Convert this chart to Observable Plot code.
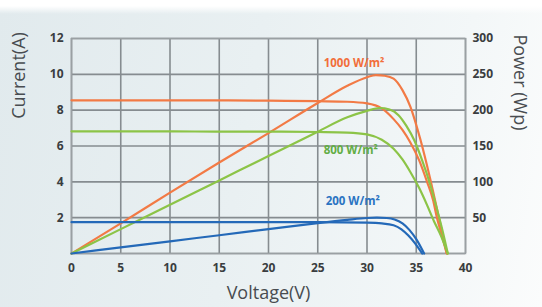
<!DOCTYPE html>
<html>
<head>
<meta charset="utf-8">
<script src="https://cdn.jsdelivr.net/npm/d3@7"></script>
<script src="https://cdn.jsdelivr.net/npm/@observablehq/plot@0.6"></script>
<style>
  html, body { margin: 0; padding: 0; }
  body {
    width: 542px; height: 307px; overflow: hidden;
    background: linear-gradient(to bottom, #ffffff 0px, #ffffff 6px, rgba(255,255,255,0) 14px),
                linear-gradient(100deg, #e1eaed 0%, #e9f0f2 45%, #f3f7f8 80%, #fbfcfc 100%);
    font-family: "Open Sans", "DejaVu Sans", sans-serif;
  }
</style>
</head>
<body>
<div id="chart"></div>
<script>
// Tick values
const voltageTicks = [0, 5, 10, 15, 20, 25, 30, 35, 40];
const currentTicks = [0, 2, 4, 6, 8, 10, 12];
const powerTickLabels = ["", "50", "100", "150", "200", "250", "300"];

// 1000 W/m² — I-V curve
const v1000I = [0, 5, 10, 15, 20, 25, 28, 30, 31.5, 32.7, 33.6, 34.4, 35.3, 36.1, 36.7, 37.1, 37.6, 38.1];
const i1000  = [8.55, 8.55, 8.55, 8.55, 8.53, 8.5, 8.47, 8.38, 8.1, 7.5, 6.9, 6.2, 5.2, 4.0, 3.0, 2.0, 1.0, 0];
// 1000 W/m² — P-V curve (Wp)
const v1000P = [0, 5, 10, 15, 20, 25, 28, 30, 30.9, 31.8, 32.7, 33.6, 34.4, 35.4, 36.4, 37.3, 38.1];
const p1000  = [0, 42, 85, 127, 168, 210, 234, 246, 249, 248, 244, 228, 205, 160, 105, 50, 0];

// 800 W/m² — I-V curve
const v800I = [0, 5, 10, 15, 20, 25, 28, 30, 31.5, 32.7, 33.6, 34.4, 35.3, 36.1, 36.8, 37.5, 38.2];
const i800  = [6.82, 6.82, 6.82, 6.8, 6.8, 6.78, 6.75, 6.65, 6.35, 5.85, 5.25, 4.55, 3.65, 2.7, 1.8, 1.0, 0];
// 800 W/m² — P-V curve
const v800P = [0, 5, 10, 15, 20, 25, 28, 30, 31.3, 32.3, 33.2, 34.0, 34.8, 35.6, 36.4, 37.1, 37.7, 38.2];
const p800  = [0, 34, 68, 102, 136, 170, 190, 199, 203, 201, 193, 178, 158, 130, 97, 62, 30, 0];

// 200 W/m² — I-V curve
const v200I = [0, 5, 10, 15, 20, 25, 30, 31.5, 32.7, 33.5, 34.2, 34.9, 35.6];
const i200  = [1.75, 1.75, 1.75, 1.75, 1.75, 1.75, 1.72, 1.68, 1.58, 1.35, 1.0, 0.55, 0];
// 200 W/m² — P-V curve
const v200P = [0, 5, 10, 15, 20, 25, 28, 30, 31, 32, 32.8, 33.6, 34.3, 35.0, 35.8];
const p200  = [0, 8.5, 17, 25.5, 34, 42.5, 47, 49.5, 50, 49.5, 47.5, 42, 33, 20, 0];

const seriesLabels = ["1000 W/m²", "800 W/m²", "200 W/m²"];
const labelV = [25.6, 25.6, 25.8];
const labelI = [10.6, 5.75, 2.9];

const colors = {"1000 W/m²": "#f27a45", "800 W/m²": "#8cc447", "200 W/m²": "#2469b8"};
const labelColors = {"1000 W/m²": "#f26e3a", "800 W/m²": "#62ad45", "200 W/m²": "#2a73c2"};

const WATT_PER_AMP = 25; // right axis 0–300 Wp maps to left axis 0–12 A

function ivRows(name, vs, is) { return vs.map((v, k) => ({series: name, kind: "I", v, y: is[k]})); }
function pvRows(name, vs, ps) { return vs.map((v, k) => ({series: name, kind: "P", v, p: ps[k], y: ps[k] / WATT_PER_AMP})); }

const rows = [
  ...ivRows(seriesLabels[0], v1000I, i1000), ...pvRows(seriesLabels[0], v1000P, p1000),
  ...ivRows(seriesLabels[1], v800I, i800),   ...pvRows(seriesLabels[1], v800P, p800),
  ...ivRows(seriesLabels[2], v200I, i200),   ...pvRows(seriesLabels[2], v200P, p200)
];
const labelRows = seriesLabels.map((s, k) => ({series: s, v: labelV[k], y: labelI[k]}));

const tickFont = {fontSize: 12, fontWeight: "bold", fill: "#3a3d40"};
const titleFont = {fontSize: 18, fill: "#484c50", fontWeight: 500, textAnchor: "middle", lineAnchor: "middle"};

const chart = Plot.plot({
  width: 542,
  height: 307,
  marginLeft: 71,
  marginRight: 77,
  marginTop: 38,
  marginBottom: 54,
  style: {background: "transparent", fontFamily: "'Open Sans', 'DejaVu Sans', sans-serif", overflow: "visible"},
  x: {domain: [0, 40]},
  y: {domain: [0, 12]},
  marks: [
    Plot.gridX(voltageTicks, {stroke: "#868c90", strokeOpacity: 1, strokeWidth: 1.6}),
    Plot.gridY(currentTicks, {stroke: "#868c90", strokeOpacity: 1, strokeWidth: 1.6}),
    Plot.frame({stroke: "#9aa0a3", strokeWidth: 1.5}),
    Plot.axisX(voltageTicks, {tickSize: 0, tickPadding: 10, label: null, ...tickFont}),
    Plot.axisY(currentTicks.filter(d => d > 0), {anchor: "left", tickSize: 0, tickPadding: 8, label: null, ...tickFont}),
    Plot.axisY(currentTicks.filter(d => d > 0), {anchor: "right", tickSize: 0, tickPadding: 7, label: null,
      tickFormat: d => powerTickLabels[currentTicks.indexOf(d)], textAnchor: "start", ...tickFont}),
    Plot.line(rows, {x: "v", y: "y", z: d => d.series + d.kind, stroke: d => colors[d.series],
      strokeWidth: 2.2, curve: "monotone-x"}),
    Plot.text(labelRows, {x: "v", y: "y", text: "series", fill: d => labelColors[d.series],
      textAnchor: "start", fontSize: 11.5, fontWeight: "bold"}),
    Plot.text(["Current(A)"], {frameAnchor: "top-left", rotate: -90, dx: -52, dy: 37, ...titleFont}),
    Plot.text(["Power (Wp)"], {frameAnchor: "top-right", rotate: 90, dx: 54, dy: 44, ...titleFont}),
    Plot.text(["Voltage(V)"], {frameAnchor: "bottom", dy: 40, ...titleFont})
  ]
});
document.getElementById("chart").appendChild(chart);
</script>
</body>
</html>
